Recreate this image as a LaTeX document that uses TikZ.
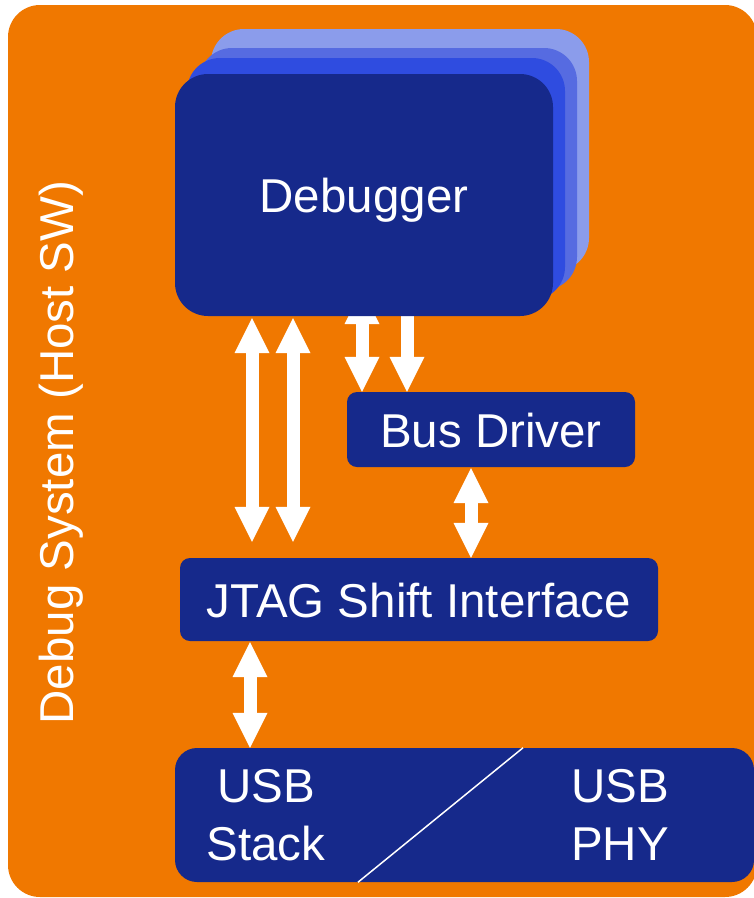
\documentclass[tikz,border=0pt]{standalone}
\usepackage{fontspec}
\setmainfont{Liberation Sans}
\usetikzlibrary{arrows.meta,calc}

\definecolor{hostorange}{HTML}{F07800}
\definecolor{navy}{HTML}{16298B}
\definecolor{stackA}{HTML}{2F4CE0}
\definecolor{stackB}{HTML}{566BE1}
\definecolor{stackC}{HTML}{8B9CEB}

\pgfdeclarelayer{back}
\pgfdeclarelayer{mid}
\pgfsetlayers{back,mid,main}

\begin{document}
\begin{tikzpicture}[x=1pt,y=-1pt,
  box/.style={rectangle, fill=navy, draw=none, inner sep=0pt, rounded corners=10pt,
    text=white, font=\fontsize{47.5}{58}\selectfont, text height=35pt, text depth=0pt},
  sheet/.style={rectangle, draw=none, inner sep=0pt, rounded corners=33pt,
    minimum width=378pt, minimum height=242pt},
  lbl/.style={text=white, inner sep=0pt, font=\fontsize{47.5}{58}\selectfont},
  fat/.style={white, line width=13pt,
    >={Triangle[width=35pt,length=35pt,line width=0pt]}}]

  \useasboundingbox (0,0) rectangle (754,898);

  % page and host frame
  \begin{pgfonlayer}{back}
    \fill[white] (0,0) rectangle (754,898);
    \fill[hostorange, rounded corners=32pt] (8,5) rectangle (757,897);
  \end{pgfonlayer}

  % stacked debugger sheets, back to front
  \node[sheet, fill=stackC] (dbgC) at (400,150) {};
  \node[sheet, fill=stackB] (dbgB) at (388,169) {};
  \node[sheet, fill=stackA] (dbgA) at (376,179) {};
  \node[sheet, fill=navy, text=white, font=\fontsize{47.5}{58}\selectfont,
        text height=35pt, text depth=0pt] (dbg) at (364,195) {Debugger};

  % functional blocks
  \node[box, minimum width=288pt, minimum height=75pt] (bus) at (491,429.5) {Bus Driver};
  \node[box, minimum width=478pt, minimum height=83pt] (jtag) at (419,599.5) {JTAG Shift Interface};
  \node[box, rounded corners=22pt, minimum width=579pt, minimum height=134pt] (usb) at (464.5,815) {};
  \draw[white, line width=1.5pt] (523,0 |- usb.north) -- (358,0 |- usb.south);
  \node[lbl, align=center] (stack) at (266,815) {USB\\Stack};
  \node[lbl, align=center] (phy) at (620,815) {USB\\PHY};

  % side caption
  \node[lbl, rotate=90, anchor=base] (host) at (73,452.5) {Debug System (Host SW)};

  % block arrows, drawn beneath the blocks
  \begin{pgfonlayer}{mid}
    \draw[fat,<->] ($(252,0 |- dbg.south)+(0,2)$) -- ($(252,0 |- jtag.north)+(0,-16)$);
    \draw[fat,<->] ($(293,0 |- dbg.south)+(0,2)$) -- ($(293,0 |- jtag.north)+(0,-16)$);
    \draw[fat,<->] ($(362,0 |- dbg.south)+(0,-27)$) -- (362,0 |- bus.north);
    \draw[fat,->] (407,0 |- dbg.south) -- (407,0 |- bus.north);
    \draw[fat,<->] ($(471,0 |- bus.south)+(0,1)$) -- (471,0 |- jtag.north);
    \draw[fat,<->] ($(250,0 |- jtag.south)+(0,1)$) -- (250,0 |- usb.north);
  \end{pgfonlayer}
\end{tikzpicture}
\end{document}
